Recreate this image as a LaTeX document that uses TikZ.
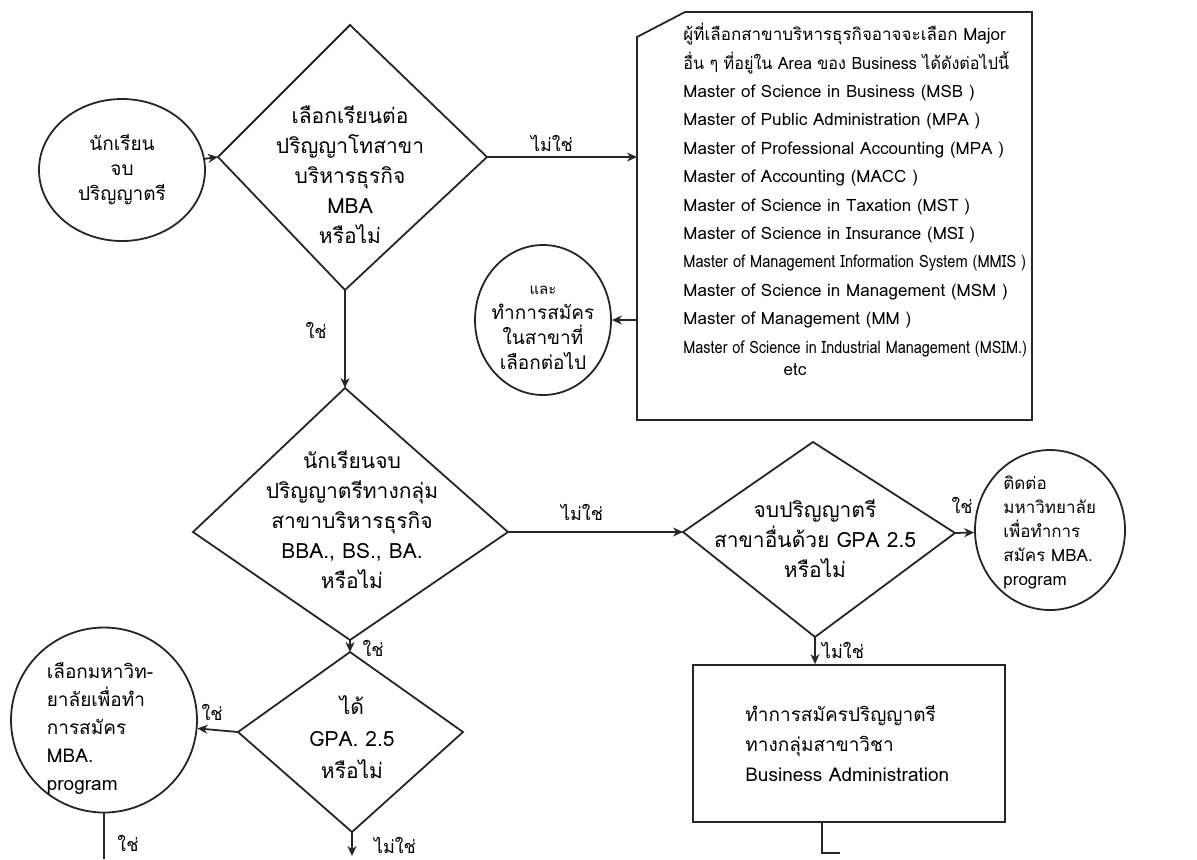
\documentclass[tikz,border=0pt]{standalone}
\usepackage{fontspec}
\usepackage{graphicx}
\newfontfamily\thaifont[Script=Thai]{Loma}
\usetikzlibrary{arrows.meta,shapes.geometric}
\newcommand{\sqz}[2]{\scalebox{#1}[1]{#2}}
\begin{document}
\begin{tikzpicture}[x=0.5pt,y=-0.5pt,
  ln/.style={line width=0.9pt, draw=black!85},
  arr/.style={ln, -{Stealth[length=5pt,width=4.5pt]}},
  circ/.style={ellipse, ln, inner sep=0pt},
  dtxt/.style={font=\thaifont\fontsize{10.5}{15}\selectfont, align=center, inner sep=0pt},
  ctxt/.style={font=\thaifont\fontsize{9.5}{12.5}\selectfont, align=center, inner sep=0pt},
  btxt/.style={font=\thaifont\fontsize{8.5}{14.2}\selectfont, align=left, inner sep=0pt},
  lbl/.style={font=\thaifont\fontsize{9}{11}\selectfont, inner sep=1pt}]
\useasboundingbox (0,0) rectangle (1197,859);
\fill[white] (0,0) rectangle (1197,859);

% circle 1
\node[circ, minimum width=83pt, minimum height=71pt] (c1) at (122,170) {};
\node[ctxt] (c1t) at (122,170) {นักเรียน\\จบ\\ปริญญาตรี};

% diamond 1
\coordinate (d1l) at (218,157);
\coordinate (d1t) at (350,25);
\coordinate (d1r) at (487,157);
\coordinate (d1b) at (345,290);
\draw[ln] (d1l) -- (d1t) -- (d1r) -- (d1b) -- cycle;
\node[dtxt] (d1x) at (350,175) {เลือกเรียนต่อ\\ปริญญาโทสาขา\\บริหารธุรกิจ\\MBA\\หรือไม่};

% big box
\coordinate (b1) at (637,37);
\coordinate (b2) at (685,12);
\coordinate (b3) at (1032,12);
\coordinate (b4) at (1032,420);
\coordinate (b5) at (637,420);
\draw[ln] (b1) -- (b2) -- (b3) -- (b4) -- (b5) -- cycle;
\node[btxt, anchor=west] (bx) at (683,190) {ผู้ที่เลือกสาขาบริหารธุรกิจอาจจะเลือก Major\\
\sqz{0.95}{อื่น ๆ ที่อยู่ใน Area ของ Business ได้ดังต่อไปนี้}\\
Master of Science in Business (MSB )\\
Master of Public Administration (MPA )\\
Master of Professional Accounting (MPA )\\
Master of Accounting (MACC )\\
Master of Science in Taxation (MST )\\
Master of Science in Insurance (MSI )\\
\sqz{0.86}{Master of Management Information System (MMIS )}\\
Master of Science in Management (MSM )\\
Master of Management (MM )\\
\sqz{0.85}{Master of Science in Industrial Management (MSIM.)}};
\node[btxt] (etc) at (795,370) {etc};

% middle circle
\node[circ, minimum width=68pt, minimum height=75pt] (mc) at (543,320) {};
\node[ctxt] (mct) at (543,328) {{\fontsize{7.5}{9}\selectfont และ}\\ทำการสมัคร\\ในสาขาที่\\เลือกต่อไป};

% diamond 2
\coordinate (d2t) at (345,388);
\coordinate (d2l) at (193,532);
\coordinate (d2r) at (508,532);
\coordinate (d2b) at (350,640);
\draw[ln] (d2t) -- (d2r) -- (d2b) -- (d2l) -- cycle;
\node[dtxt] (d2x) at (352,520) {นักเรียนจบ\\ปริญญาตรีทางกลุ่ม\\สาขาบริหารธุรกิจ\\BBA., BS., BA.\\หรือไม่};

% diamond 3
\coordinate (d3l) at (683,532);
\coordinate (d3t) at (813,442);
\coordinate (d3r) at (955,533);
\coordinate (d3b) at (815,637);
\draw[ln] (d3l) -- (d3t) -- (d3r) -- (d3b) -- cycle;
\node[dtxt] (d3x) at (815,539) {จบปริญญาตรี\\สาขาอื่นด้วย GPA 2.5\\หรือไม่};

% circle 4
\node[circ, minimum width=75pt, minimum height=80pt] (c4) at (1050,530) {};
\node[ctxt, align=left, anchor=west, font=\thaifont\fontsize{8.5}{12}\selectfont] (c4t) at (1003,532) {ติดต่อ\\มหาวิทยาลัย\\เพื่อทำการ\\สมัคร MBA.\\program};

% diamond 4
\coordinate (d4t) at (350,652);
\coordinate (d4l) at (238,732);
\coordinate (d4r) at (463,732);
\coordinate (d4b) at (352,832);
\draw[ln] (d4t) -- (d4r) -- (d4b) -- (d4l) -- cycle;
\node[dtxt, font=\thaifont\fontsize{10.5}{16}\selectfont] (d4x) at (352,737) {ได้\\GPA. 2.5\\หรือไม่};

% circle 5
\node[circ, minimum width=93pt, minimum height=92.5pt] (c5) at (104,720) {};
\node[ctxt, align=left, font=\thaifont\fontsize{9.5}{14}\selectfont] (c5t) at (100,728) {เลือกมหาวิท-\\ยาลัยเพื่อทำ\\การสมัคร\\MBA.\\program};

% box 6
\node[ln, draw, rectangle, minimum width=156pt, minimum height=78.5pt, inner sep=0pt] (b6) at (849,743.5) {};
\node[btxt, anchor=west, font=\thaifont\fontsize{9.5}{15}\selectfont] (b6t) at (745,743) {ทำการสมัครปริญญาตรี\\ทางกลุ่มสาขาวิชา\\Business Administration};

% end coordinates
\coordinate (bot) at (0,859);
\coordinate (d4e) at (352,856);
\coordinate (b6o) at (822,853);

% connectors
\draw[arr] (c1) -- (d1l);
\draw[arr] (d1r) -- (d1r -| b1);
\draw[arr] (b1 |- mc) -- (mc);
\draw[arr] (d1b) -- (d2t);
\draw[arr] (d2r) -- (d3l);
\draw[arr] (d3r) -- (c4);
\draw[arr] (d2b) -- (d4t);
\draw[arr] (d4l) -- (c5);
\draw[ln] (c5.south) -- (c5.south |- bot);
\draw[arr] (d4b) -- (d4e);
\draw[arr] (d3b) -- (d3b |- b6.north);
\draw[ln] (b6.south -| b6o) -- (b6o) -- ++(18,0);

% labels
\node[lbl] (l1) at (552,143) {ไม่ใช่};
\node[lbl] (l2) at (316,330) {ใช่};
\node[lbl] (l3) at (582,512) {ไม่ใช่};
\node[lbl] (l4) at (962,505) {ใช่};
\node[lbl] (l5) at (373,648) {ใช่};
\node[lbl] (l6) at (212,712) {ใช่};
\node[lbl] (l7) at (128,843) {ใช่};
\node[lbl] (l8) at (395,845) {ไม่ใช่};
\node[lbl] (l9) at (843,650) {ไม่ใช่};
\end{tikzpicture}
\end{document}
